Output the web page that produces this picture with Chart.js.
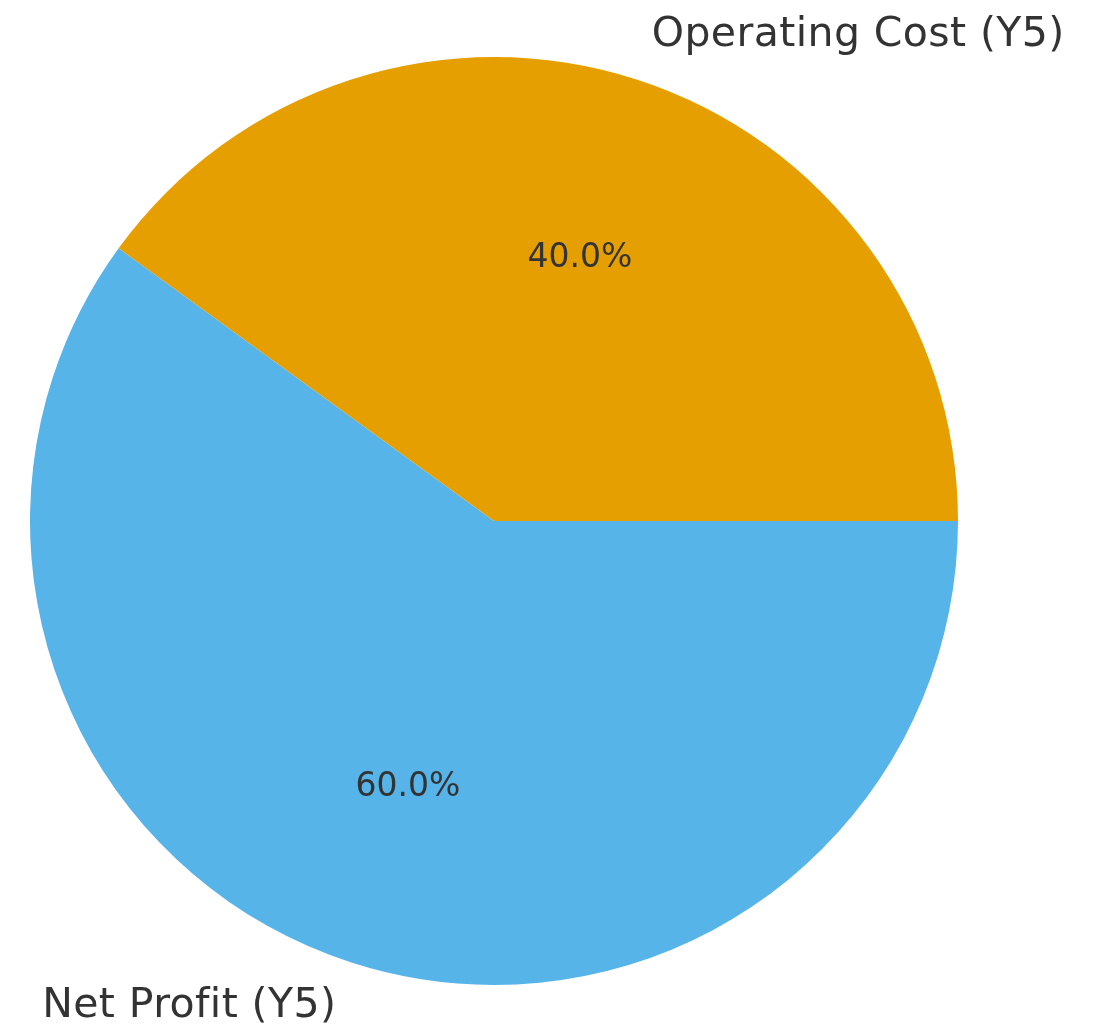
<!DOCTYPE html>
<html>
<head>
<meta charset="utf-8">
<script src="https://cdn.jsdelivr.net/npm/chart.js@4/dist/chart.umd.min.js"></script>
<style>
  html, body { margin: 0; padding: 0; background: #fff; }
  #wrap { width: 1096px; height: 1032px; position: relative; }
</style>
</head>
<body>
<div id="wrap"><canvas id="pieChart"></canvas></div>
<script>
// data
const labels = ['Net Profit (Y5)', 'Operating Cost (Y5)'];
const values = [60, 40];
const colors = ['#56B4E9', '#E69F00'];

// draws slice labels outside and percentages inside, like matplotlib's autopct
const sliceText = {
    id: 'sliceText',
    afterDatasetsDraw(chart) {
        const ctx = chart.ctx;
        const meta = chart.getDatasetMeta(0);
        const total = values.reduce((a, b) => a + b, 0);
        ctx.save();
        ctx.fillStyle = '#333333';
        meta.data.forEach(function (arc, i) {
            const mid = (arc.startAngle + arc.endAngle) / 2;
            const r = arc.outerRadius;
            const cx = arc.x, cy = arc.y;
            const c = Math.cos(mid), s = Math.sin(mid);

            // percentage at 0.6 radius
            ctx.letterSpacing = '0px';
            ctx.font = '33px "DejaVu Sans"';
            ctx.textAlign = 'center';
            ctx.textBaseline = 'middle';
            ctx.fillText((values[i] / total * 100).toFixed(1) + '%', cx + 0.6 * r * c, cy + 0.6 * r * s + 2);

            // category label at 1.1 radius (small spacing also stops the "fi" ligature)
            ctx.letterSpacing = '0.4px';
            ctx.font = '41px "DejaVu Sans"';
            ctx.textAlign = c >= 0 ? 'left' : 'right';
            ctx.fillText(labels[i], cx + 1.1 * r * c, cy + 1.1 * r * s);
        });
        ctx.restore();
    }
};

const ctx = document.getElementById('pieChart').getContext('2d');
new Chart(ctx, {
    type: 'pie',
    data: {
        labels: labels,
        datasets: [{
            data: values,
            backgroundColor: colors,
            borderWidth: 0
        }]
    },
    options: {
        responsive: true,
        maintainAspectRatio: false,
        animation: false,
        rotation: 90,
        layout: {
            padding: { left: 30, right: 138, top: 57, bottom: 47 }
        },
        plugins: {
            legend: { display: false },
            tooltip: { enabled: false }
        }
    },
    plugins: [sliceText]
});
</script>
</body>
</html>
